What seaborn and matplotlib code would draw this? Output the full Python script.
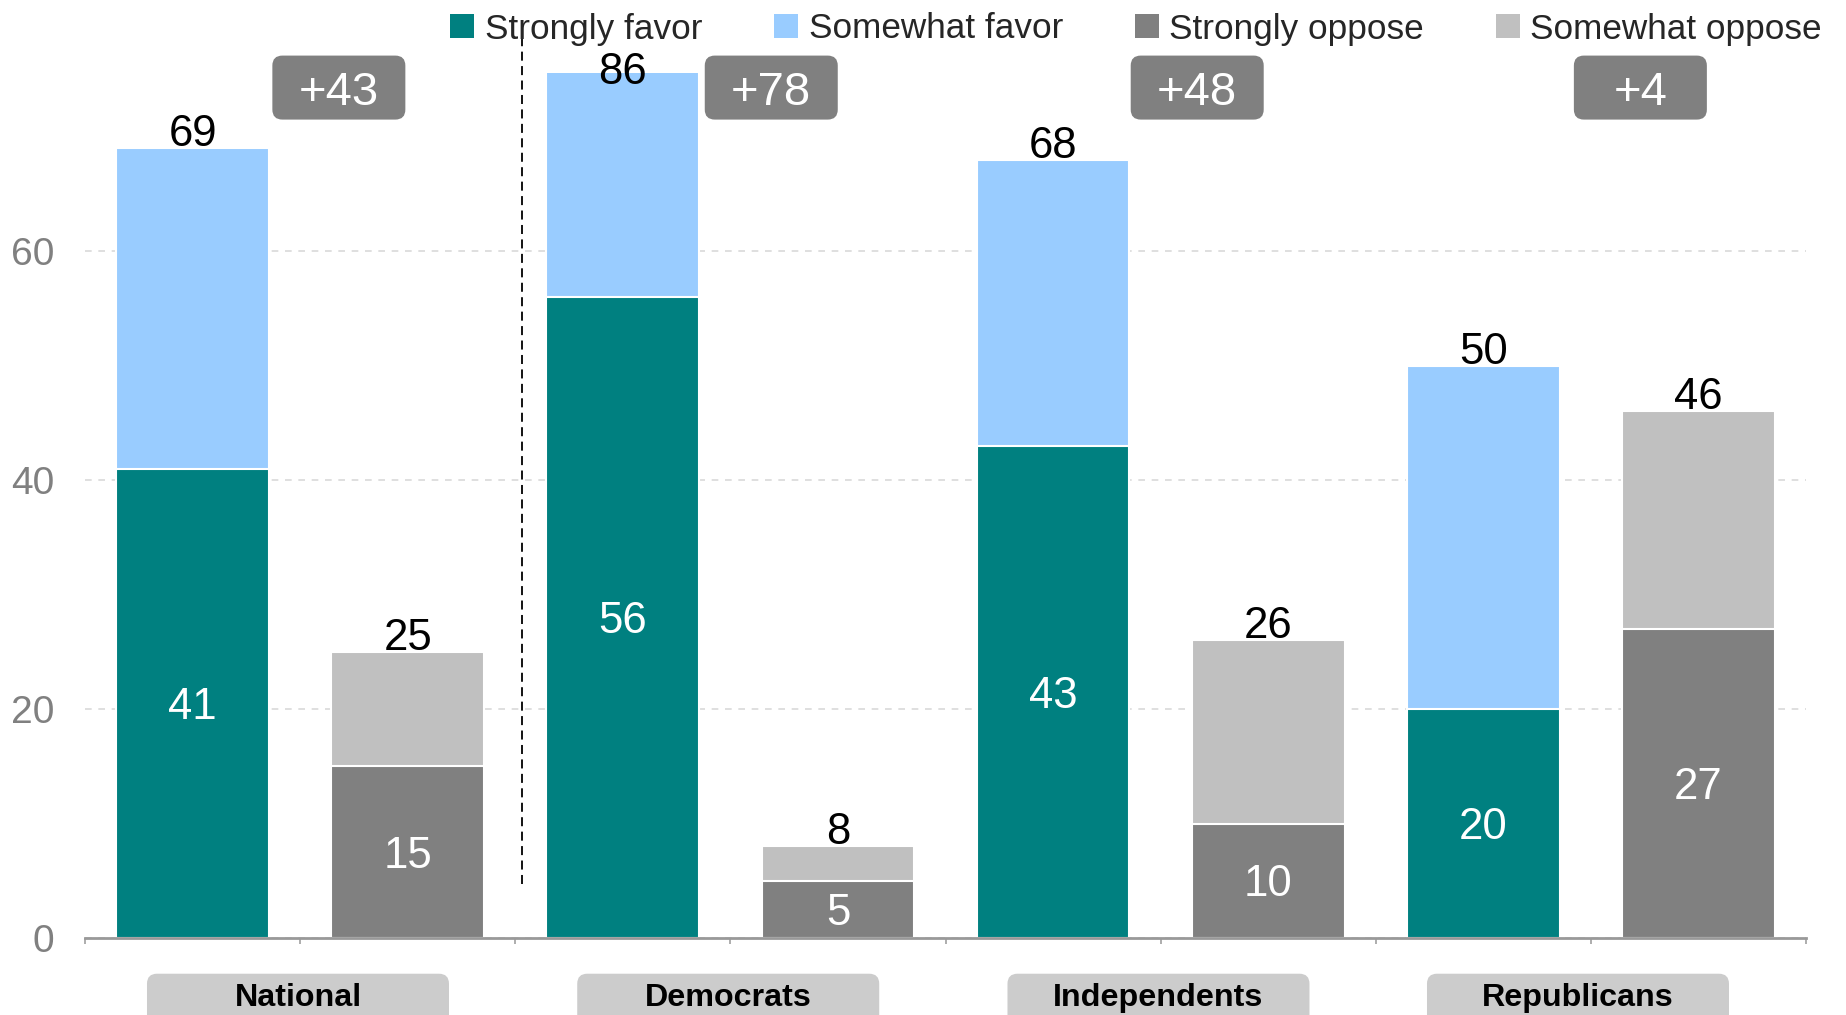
import matplotlib
matplotlib.use("Agg")
import matplotlib.pyplot as plt
from matplotlib.patches import Patch, FancyBboxPatch
import pandas as pd
import seaborn as sns

# --- data ---
groups = ["National", "Democrats", "Independents", "Republicans"]
strongly_favor = [41, 56, 43, 20]
somewhat_favor = [28, 30, 25, 30]
strongly_oppose = [15, 5, 10, 27]
somewhat_oppose = [10, 3, 16, 19]
net_labels = ["+43", "+78", "+48", "+4"]
legend_labels = ["Strongly favor", "Somewhat favor", "Strongly oppose", "Somewhat oppose"]

# colours
TEAL, LIGHT_BLUE = "#008080", "#99CCFF"
DARK_GRAY, LIGHT_GRAY = "#808080", "#C0C0C0"

# one row per bar: favor then oppose for each group
rows = []
for g, sf, wf, so, wo in zip(groups, strongly_favor, somewhat_favor, strongly_oppose, somewhat_oppose):
    rows.append({"bar": g + " favor", "strong": sf, "total": sf + wf, "side": "favor"})
    rows.append({"bar": g + " oppose", "strong": so, "total": so + wo, "side": "oppose"})
df = pd.DataFrame(rows)
order = list(df["bar"])
light_pal = {b: (LIGHT_BLUE if s == "favor" else LIGHT_GRAY) for b, s in zip(df["bar"], df["side"])}
dark_pal = {b: (TEAL if s == "favor" else DARK_GRAY) for b, s in zip(df["bar"], df["side"])}

sns.set_theme(style="white")
plt.rcParams["font.family"] = ["Liberation Sans", "DejaVu Sans"]

fig = plt.figure(figsize=(18.46, 10.15), dpi=100)
ax = fig.add_axes([0.04605, 0.07586, 0.93229, 0.85251])
YTOP = 75.6

# stacked bars: total (somewhat colour) underneath, strongly segment on top
sns.barplot(data=df, x="bar", y="total", hue="bar", order=order, hue_order=order,
            palette=light_pal, saturation=1, width=0.71, edgecolor="white",
            linewidth=1.5, legend=False, ax=ax)
sns.barplot(data=df, x="bar", y="strong", hue="bar", order=order, hue_order=order,
            palette=dark_pal, saturation=1, width=0.71, edgecolor="white",
            linewidth=1.5, legend=False, ax=ax)

ax.set_xlim(-0.5, len(order) - 0.5)
ax.set_ylim(0, YTOP)
ax.set_xlabel("")
ax.set_ylabel("")
ax.set_axisbelow(True)

# axes styling
ax.set_yticks([0, 20, 40, 60])
ax.tick_params(axis="y", length=0, pad=22, labelsize=28, labelcolor="#808080")
ax.set_xticks([i - 0.5 for i in range(len(order) + 1)])
ax.set_xticklabels([])
ax.tick_params(axis="x", direction="out", length=4, width=1.2, color="#A0A0A0", bottom=True)
ax.grid(axis="y", color="#D9D9D9", linestyle=(0, (4, 4)), linewidth=1.2)
ax.grid(axis="x", visible=False)
for side in ["left", "right", "top"]:
    ax.spines[side].set_visible(False)
ax.spines["bottom"].set_color("#999999")
ax.spines["bottom"].set_linewidth(2)

# labels
for i, row in df.iterrows():
    # total above each bar (kept inside the axes when the bar is cut off)
    ty = min(row["total"], YTOP - 1.2)
    ax.annotate(str(row["total"]), (i, ty), xytext=(0, 1.5), textcoords="offset points",
                ha="center", va="baseline", fontsize=31.5, color="black", annotation_clip=False)
    # strongly segment value in white
    ax.annotate(str(row["strong"]), (i, row["strong"] / 2), xytext=(0, -11.3),
                textcoords="offset points", ha="center", va="baseline",
                fontsize=31.5, color="white")

# net boxes and group label boxes
net_x = [0.68, 2.69, 4.67, 6.73]
group_x = [0.49, 2.49, 4.49, 6.44]
px_x = 1721 / len(order)
px_y = 865.3 / YTOP
aspect = px_x / px_y
for g, (name, net) in enumerate(zip(groups, net_labels)):
    cx = net_x[g]
    w, h, cy = 133 / px_x, 64 / px_y, 74.3
    box = FancyBboxPatch((cx - w / 2, cy - h / 2), w, h,
                         boxstyle=f"round,pad=0,rounding_size={10 / px_x}",
                         mutation_aspect=aspect, facecolor=DARK_GRAY, edgecolor="none",
                         clip_on=False, zorder=5)
    ax.add_patch(box)
    ax.annotate(net, (cx, cy), xytext=(0, -12.2), textcoords="offset points",
                ha="center", va="baseline", fontsize=34, color="white", zorder=6,
                annotation_clip=False)

    gx = group_x[g]
    gw = 302 / px_x
    gbox = FancyBboxPatch((gx - gw / 2, -10), gw, 10 - 3.12,
                          boxstyle=f"round,pad=0,rounding_size={10 / px_x}",
                          mutation_aspect=aspect, facecolor="#CCCCCC", edgecolor="none",
                          clip_on=False, zorder=5)
    ax.add_patch(gbox)
    ax.text(gx, -5.9, name, ha="center", va="baseline", fontsize=23.2,
            fontweight="bold", color="black", zorder=6, clip_on=False)

# dashed separator between National and the party groups
ax.plot([1.53, 1.53], [4.7, 79.5], color="black", linestyle=(0, (5, 3)),
        linewidth=1.3, clip_on=False, zorder=4)

# legend across the top
handles = [Patch(facecolor=c, edgecolor="none") for c in [TEAL, LIGHT_BLUE, DARK_GRAY, LIGHT_GRAY]]
fig.legend(handles, legend_labels, loc="center right", bbox_to_anchor=(1822 / 1846, 1 - 29 / 1015),
           ncol=4, frameon=False, fontsize=25.3, handlelength=0.68, handleheight=0.68,
           handletextpad=0.3, columnspacing=2.05, borderpad=0, borderaxespad=0)

fig.savefig("out.png", dpi=100)
